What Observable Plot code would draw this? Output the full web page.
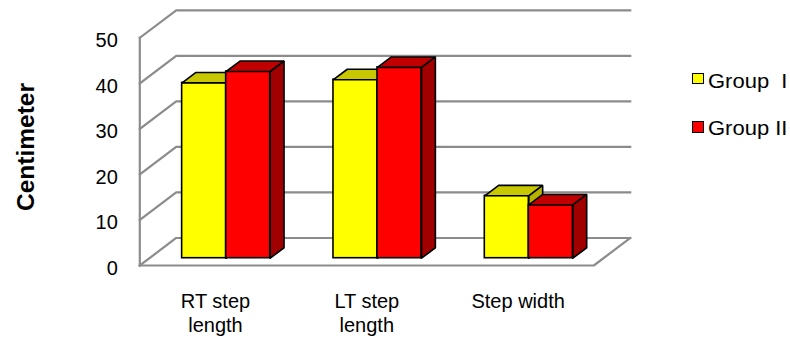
<!DOCTYPE html>
<html>
<head>
<meta charset="utf-8">
<script src="https://cdn.jsdelivr.net/npm/d3@7"></script>
<script src="https://cdn.jsdelivr.net/npm/@observablehq/plot@0.6"></script>
<style>
  html, body { margin: 0; padding: 0; background: #fff; }
  body { font-family: "Liberation Sans", Arial, Helvetica, sans-serif; }
  #wrap { position: relative; width: 790px; height: 341px; overflow: hidden; }
  #wrap svg { position: absolute; left: 0; top: 0; }
  .sw { position: absolute; width: 11.6px; height: 11.6px; box-sizing: border-box; border: 1.6px solid #000; }
  .lt { position: absolute; font-size: 20px; line-height: 20px; white-space: pre; color: #000; transform: scaleX(1.1); transform-origin: left center; }
  .ytitle { position: absolute; left: 25.5px; top: 147px; font-size: 24.5px; font-weight: bold; line-height: 1; white-space: nowrap; color: #000; transform: translate(-50%, -50%) rotate(-90deg); }
</style>
</head>
<body>
<div id="wrap"></div>
<script>
// ---- data ----
const categories = ["RT step\nlength", "LT step\nlength", "Step width"];
const seriesNames = ["Group  I", "Group II"];
const groupI = [38.5, 39.2, 13.7];
const groupII = [41.0, 41.9, 11.7];
const yTicks = [0, 10, 20, 30, 40, 50];
const yTitle = "Centimeter";
const frontColors = ["#ffff00", "#ff0000"];
const topColors = ["#c8c800", "#c00000"];
const sideColors = ["#b4b400", "#a00000"];

// ---- 3D geometry (in data units) ----
const DX = 0.2405;   // full depth offset along x (category units)
const DY = 6.04;     // full depth offset along y (value units)
const D0 = 0.265;    // depth of bar front plane
const DB = 0.38;     // bar depth
const BAR0 = 0.216;  // bar group offset inside category
const BW = 0.291;    // bar width

const P = (x, v, d) => ({x: x + d * DX, y: v + d * DY});

const seriesValues = [groupI, groupII];
const bars = [];
categories.forEach((c, i) => {
  seriesValues.forEach((arr, s) => {
    const xl = i + BAR0 + s * BW, xr = xl + BW, v = arr[i];
    bars.push({i, s, v, xl, xr});
  });
});

// grid / walls
const gridLines = [];
yTicks.forEach((t, k) => {
  [P(0, t, 0), P(0, t, 1), P(categories.length, t, 1)].forEach(p => gridLines.push({...p, id: "g" + k}));
});
[P(0, 0, 0), P(0, yTicks[yTicks.length - 1], 0)].forEach(p => gridLines.push({...p, id: "axis"}));
[P(0, 0, 0), P(categories.length, 0, 0), P(categories.length, 0, 1)].forEach(p => gridLines.push({...p, id: "floor"}));

function faces(s) {
  const fronts = [], tops = [], sides = [];
  bars.filter(b => b.s === s).forEach((b, k) => {
    const a = P(b.xl, 0, D0), c = P(b.xr, b.v, D0);
    fronts.push({x1: a.x, x2: c.x, y1: a.y, y2: c.y});
    [P(b.xl, b.v, D0), P(b.xr, b.v, D0), P(b.xr, b.v, D0 + DB), P(b.xl, b.v, D0 + DB), P(b.xl, b.v, D0)]
      .forEach(p => tops.push({...p, id: k}));
    [P(b.xr, 0, D0), P(b.xr, b.v, D0), P(b.xr, b.v, D0 + DB), P(b.xr, 0, D0 + DB), P(b.xr, 0, D0)]
      .forEach(p => sides.push({...p, id: k}));
  });
  return {fronts, tops, sides};
}

const barMarks = [];
seriesValues.forEach((arr, s) => {
  const f = faces(s);
  barMarks.push(
    Plot.rect(f.fronts, {x1: "x1", x2: "x2", y1: "y1", y2: "y2", fill: frontColors[s], stroke: "#000", strokeWidth: 1.6}),
    Plot.line(f.tops, {x: "x", y: "y", z: "id", fill: topColors[s], stroke: "#000", strokeWidth: 1.6, strokeLinejoin: "miter", curve: "linear"}),
    Plot.line(f.sides, {x: "x", y: "y", z: "id", fill: sideColors[s], stroke: "#000", strokeWidth: 1.6, strokeLinejoin: "miter", curve: "linear"})
  );
});

const chart = Plot.plot({
  width: 790,
  height: 341,
  marginLeft: 139.3,
  marginRight: 196.7,
  marginTop: 37.3,
  marginBottom: 76,
  x: {domain: [0, categories.length], axis: null},
  y: {domain: [0, 50], axis: null},
  style: {fontFamily: '"Liberation Sans", Arial, Helvetica, sans-serif', background: "transparent", overflow: "visible"},
  marks: [
    Plot.line(gridLines, {x: "x", y: "y", z: "id", stroke: "#8c8c8c", strokeWidth: 2.2, strokeLinecap: "square", strokeLinejoin: "miter"}),
    ...barMarks,
    Plot.text(yTicks, {x: 0, y: d => d, text: d => String(d), textAnchor: "end", dx: -22, dy: 3, fontSize: 20, fill: "#000"}),
    Plot.text(categories, {x: (d, i) => i + 0.5, y: 0, text: d => d, lineAnchor: "top", dy: 25, fontSize: 20, lineHeight: 1.2, fill: "#000"})
  ]
});

const wrap = document.getElementById("wrap");
wrap.appendChild(chart);

// y-axis title
const yt = document.createElement("div");
yt.className = "ytitle";
yt.textContent = yTitle;
wrap.appendChild(yt);

// legend
const legendTops = [{sq: 72.7, tx: 71.4}, {sq: 121, tx: 118.1}];
seriesNames.forEach((name, s) => {
  const sq = document.createElement("div");
  sq.className = "sw";
  sq.style.left = "692px";
  sq.style.top = legendTops[s].sq + "px";
  sq.style.background = frontColors[s];
  wrap.appendChild(sq);
  const t = document.createElement("div");
  t.className = "lt";
  t.style.left = "708px";
  t.style.top = legendTops[s].tx + "px";
  t.textContent = name;
  wrap.appendChild(t);
});
</script>
</body>
</html>
